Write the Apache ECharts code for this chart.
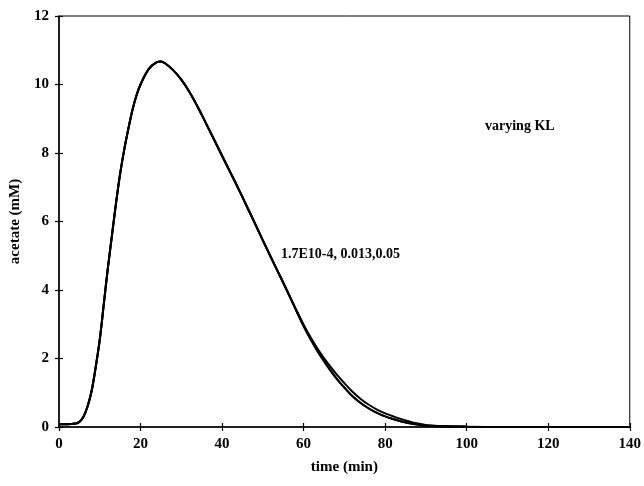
<!DOCTYPE html>
<html>
<head>
<meta charset="utf-8">
<script src="https://cdn.jsdelivr.net/npm/echarts@6/dist/echarts.min.js"></script>
<style>
  html, body { margin: 0; padding: 0; background: #fff; }
  #chart { width: 644px; height: 486px; }
</style>
</head>
<body>
<div id="chart"></div>
<script>
// Acetate concentration (mM) against time (min) for three KL values
const timeMin = [0, 2, 4, 5, 6, 7, 8, 9, 10, 11, 12, 13, 14, 15, 16, 17, 18, 19, 20, 22, 24, 25, 26, 28, 30, 32, 34, 36, 38, 40, 42, 44, 46, 48, 50, 52, 54, 56, 58, 60, 62, 64, 66, 68, 70, 72, 74, 76, 78, 80, 82, 84, 86, 88, 90, 92, 95, 100, 110, 120, 130, 140];

const acetateKL1 = [0.08, 0.08, 0.1, 0.15, 0.3, 0.6, 1.05, 1.75, 2.55, 3.6, 4.65, 5.6, 6.55, 7.4, 8.1, 8.7, 9.25, 9.68, 10.0, 10.45, 10.65, 10.67, 10.62, 10.42, 10.14, 9.78, 9.35, 8.88, 8.4, 7.92, 7.44, 6.96, 6.46, 5.96, 5.45, 4.95, 4.46, 3.97, 3.47, 2.99, 2.56, 2.18, 1.85, 1.55, 1.28, 1.03, 0.82, 0.65, 0.51, 0.4, 0.31, 0.23, 0.16, 0.1, 0.06, 0.04, 0.02, 0.01, 0, 0, 0, 0];

const acetateKL2 = [0.08, 0.08, 0.1, 0.15, 0.3, 0.6, 1.05, 1.75, 2.55, 3.6, 4.65, 5.6, 6.55, 7.4, 8.1, 8.7, 9.25, 9.68, 10.0, 10.45, 10.65, 10.67, 10.62, 10.42, 10.14, 9.78, 9.35, 8.88, 8.4, 7.92, 7.44, 6.96, 6.46, 5.96, 5.45, 4.95, 4.46, 3.96, 3.45, 2.95, 2.5, 2.1, 1.75, 1.43, 1.15, 0.9, 0.7, 0.54, 0.41, 0.31, 0.23, 0.16, 0.11, 0.07, 0.04, 0.03, 0.02, 0.01, 0, 0, 0, 0];

const acetateKL3 = acetateKL2.slice();

const xTicks = [0, 20, 40, 60, 80, 100, 120, 140];
const yTicks = [0, 2, 4, 6, 8, 10, 12];

const serif = '"Liberation Serif", "Times New Roman", serif';

function pairs(ys) {
  return timeMin.map((t, i) => [t, ys[i]]);
}

const lineStyle = { color: '#000', width: 2 };

const chart = echarts.init(document.getElementById('chart'), null, { renderer: 'canvas' });

const axisLabel = { color: '#000', fontFamily: serif, fontWeight: 'bold', fontSize: 15 };
const nameStyle = { color: '#000', fontFamily: serif, fontWeight: 'bold', fontSize: 15 };

chart.setOption({
  animation: false,
  backgroundColor: '#fff',
  grid: {
    left: 59, right: 12, top: 16, bottom: 59,
    show: true, borderColor: '#000', borderWidth: 1, backgroundColor: 'transparent'
  },
  xAxis: [
    {
      type: 'value', min: xTicks[0], max: xTicks[xTicks.length - 1], interval: 20,
      name: 'time (min)', nameLocation: 'middle', nameGap: 33, nameTextStyle: nameStyle,
      axisLine: { lineStyle: { color: '#000', width: 1.5 } },
      axisTick: { show: true, inside: false, length: 4, lineStyle: { color: '#000', width: 1.2 } },
      axisLabel: Object.assign({ margin: 10 }, axisLabel),
      splitLine: { show: false }
    },
    {
      type: 'value', position: 'bottom', min: xTicks[0], max: xTicks[xTicks.length - 1], interval: 20,
      axisLine: { show: false },
      axisTick: { show: true, inside: true, length: 4, lineStyle: { color: '#000', width: 1.2 } },
      axisLabel: { show: false },
      splitLine: { show: false }
    }
  ],
  yAxis: [
    {
      type: 'value', min: yTicks[0], max: yTicks[yTicks.length - 1], interval: 2,
      name: 'acetate (mM)', nameLocation: 'middle', nameGap: 34, nameRotate: 90, nameTextStyle: nameStyle,
      axisLine: { show: true, lineStyle: { color: '#000', width: 1.5 } },
      axisTick: { show: true, inside: false, length: 4, lineStyle: { color: '#000', width: 1.2 } },
      axisLabel: Object.assign({ margin: 10 }, axisLabel),
      splitLine: { show: false }
    },
    {
      type: 'value', position: 'left', min: yTicks[0], max: yTicks[yTicks.length - 1], interval: 2,
      axisLine: { show: false },
      axisTick: { show: true, inside: true, length: 4, lineStyle: { color: '#000', width: 1.2 } },
      axisLabel: { show: false },
      splitLine: { show: false }
    }
  ],
  series: [
    { name: 'KL 1.7E-4', type: 'line', data: pairs(acetateKL1), showSymbol: false, smooth: 0.35, lineStyle: lineStyle },
    { name: 'KL 0.013', type: 'line', data: pairs(acetateKL2), showSymbol: false, smooth: 0.35, lineStyle: lineStyle },
    { name: 'KL 0.05', type: 'line', data: pairs(acetateKL3), showSymbol: false, smooth: 0.35, lineStyle: lineStyle }
  ],
  graphic: [
    {
      type: 'text', left: 485, top: 119,
      style: { text: 'varying KL', fill: '#000', font: 'bold 14px ' + serif }
    },
    {
      type: 'text', left: 281, top: 247,
      style: { text: '1.7E10-4, 0.013,0.05', fill: '#000', font: 'bold 14px ' + serif }
    }
  ]
});
</script>
</body>
</html>
